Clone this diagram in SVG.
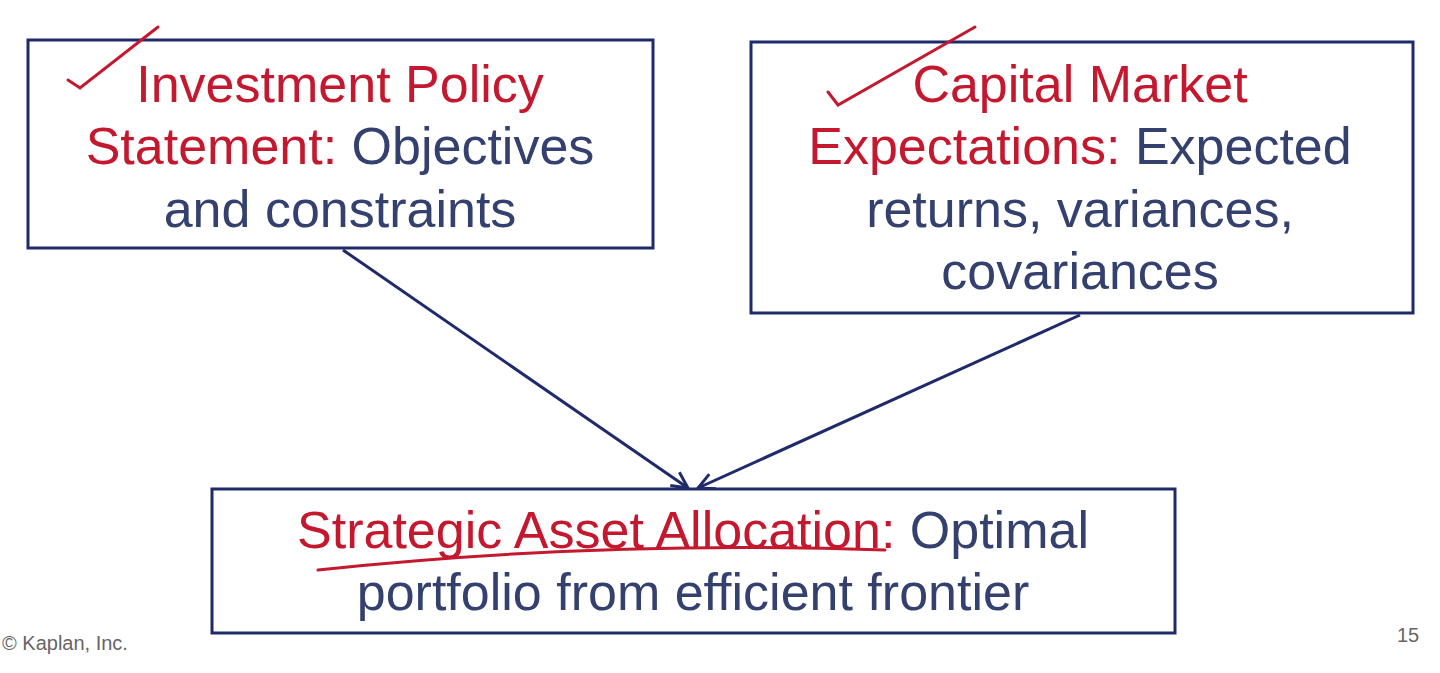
<svg xmlns="http://www.w3.org/2000/svg" width="1440" height="673" viewBox="0 0 1440 673">
<style>
.box{fill:#fff;stroke:#1f2a6b;stroke-width:3}
text{font-family:"Liberation Sans",Arial,sans-serif;font-size:52px;fill:#34406e;text-anchor:middle}
.r{fill:#c4182f}
.ink{fill:none;stroke:#c4182f;stroke-width:3;stroke-linecap:round}
text.foot{font-size:20px;fill:#666}
text.left{text-anchor:start}
</style>
<defs><marker id="a" markerWidth="20" markerHeight="20" refX="18" refY="10" orient="auto" markerUnits="userSpaceOnUse"><path d="M2,2 L18,10 L2,18" fill="none" stroke="#1f2a6b" stroke-width="3"/></marker></defs>
<rect width="1440" height="673" fill="#fff"/>
<g id="connectors" stroke="#1f2a6b" stroke-width="3" fill="none">
<line x1="343" y1="250" x2="688" y2="488" marker-end="url(#a)"/>
<line x1="1080" y1="315" x2="698" y2="488" marker-end="url(#a)"/>
</g>
<g id="ips"><rect class="box" x="28" y="40" width="625" height="208"/>
<text x="340" y="102"><tspan class="r">Investment Policy</tspan></text>
<text x="340" y="164"><tspan class="r">Statement:</tspan> Objectives</text>
<text x="340" y="227">and constraints</text></g>
<g id="cme"><rect class="box" x="751" y="42" width="662" height="271"/>
<text x="1080" y="102"><tspan class="r">Capital Market</tspan></text>
<text x="1080" y="164"><tspan class="r">Expectations:</tspan> Expected</text>
<text x="1080" y="227">returns, variances,</text>
<text x="1080" y="289">covariances</text></g>
<g id="saa"><rect class="box" x="212" y="489" width="963" height="144"/>
<text x="693" y="548"><tspan class="r">Strategic Asset Allocation:</tspan> Optimal</text>
<text x="693" y="610">portfolio from efficient frontier</text></g>
<g id="ink">
<path class="ink" d="M68,80 L80,88 L158,27"/>
<path class="ink" d="M828,92 L838,105 L975,27"/>
<path class="ink" d="M318,570 Q600,540 885,550"/>
</g>
<text class="foot left" x="2" y="650">© Kaplan, Inc.</text>
<text class="foot" x="1408" y="642">15</text>
</svg>
